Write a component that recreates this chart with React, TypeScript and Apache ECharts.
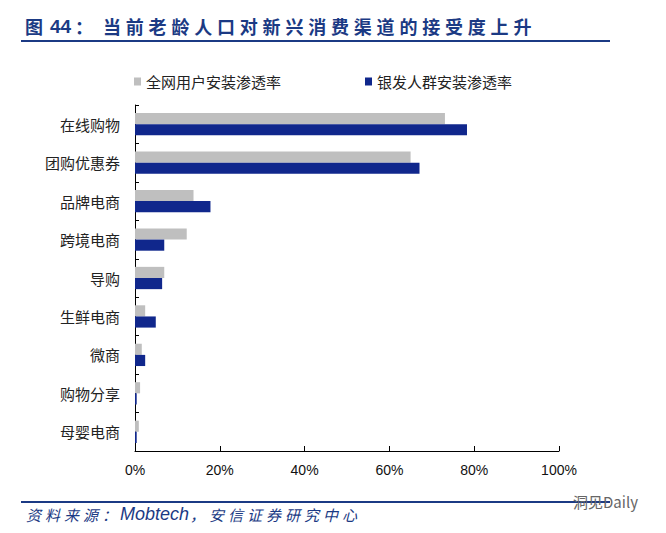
import React, { useEffect, useRef } from "react";
import * as echarts from "echarts";

const categories = ["在线购物", "团购优惠券", "品牌电商", "跨境电商", "导购", "生鲜电商", "微商", "购物分享", "母婴电商"];
const allUsers = [73.1, 65.0, 13.8, 12.2, 6.9, 2.4, 1.6, 1.2, 0.9];
const silverUsers = [78.3, 67.1, 17.8, 6.9, 6.4, 4.9, 2.4, 0.4, 0.4];
const seriesNames = ["全网用户安装渗透率", "银发人群安装渗透率"];
const xTicks = [0, 20, 40, 60, 80, 100];

const TITLE_PREFIX = ["图", "44", "："];
const TITLE_BODY = "当前老龄人口对新兴消费渠道的接受度上升";
const SOURCE_HEAD = "资料来源：";
const SOURCE_ORG = "Mobtech";
const SOURCE_TAIL = "，安信证券研究中心";
const WATERMARK = "洞见Daily";

const BLUE = "#1B3A84";
const CJK = "'Noto Sans CJK SC', sans-serif";
const LATIN = "'Liberation Sans', Arial, sans-serif";

function spaced(text: string, x0: number, pitch: number, y: number, style: any) {
  return Array.from(text).map((ch, i) => ({
    type: "text",
    x: x0 + i * pitch,
    y,
    style: { text: ch, textVerticalAlign: "middle", ...style },
  }));
}

export default function App() {
  const ref = useRef<HTMLDivElement>(null);
  useEffect(() => {
    if (!ref.current) return;
    const chart = echarts.init(ref.current, null, { renderer: "svg" });
    const titleStyle = { fontSize: 18, fontWeight: "bold", fill: BLUE, fontFamily: CJK };
    const srcStyle = { fontSize: 15, fontStyle: "italic", fill: BLUE, fontFamily: CJK };
    chart.setOption({
      animation: false,
      backgroundColor: "#ffffff",
      textStyle: { fontFamily: CJK },
      grid: { left: 135, right: 107, top: 105, bottom: 82, containLabel: false },
      legend: {
        top: 69,
        left: 129,
        itemWidth: 7,
        itemHeight: 8,
        itemGap: 84,
        icon: "rect",
        textStyle: { fontSize: 15, color: "#222", fontFamily: CJK },
        data: seriesNames,
      },
      xAxis: {
        type: "value",
        min: xTicks[0],
        max: xTicks[xTicks.length - 1],
        interval: 20,
        axisLine: { show: true, lineStyle: { color: "#000", width: 1 } },
        axisTick: { show: true, inside: true, length: 5, lineStyle: { color: "#000" } },
        splitLine: { show: false },
        axisLabel: {
          formatter: "{value}%",
          fontSize: 14,
          color: "#111",
          margin: 12,
          fontFamily: LATIN,
        },
      },
      yAxis: {
        type: "category",
        inverse: true,
        data: categories,
        axisLine: { show: true, lineStyle: { color: "#000", width: 1 } },
        axisTick: { show: true, inside: true, length: 4, lineStyle: { color: "#000" } },
        axisLabel: { fontSize: 15, color: "#222", margin: 15 },
      },
      series: [
        {
          name: seriesNames[0],
          type: "bar",
          data: allUsers,
          itemStyle: { color: "#BFBFBF" },
          barGap: "0%",
          barCategoryGap: "42%",
        },
        {
          name: seriesNames[1],
          type: "bar",
          data: silverUsers,
          itemStyle: { color: "#10278C" },
          barGap: "0%",
          barCategoryGap: "42%",
        },
      ],
      graphic: [
        { type: "text", x: 25, y: 26, style: { text: TITLE_PREFIX[0], textVerticalAlign: "middle", ...titleStyle, fontSize: 18 } },
        { type: "text", x: 50, y: 26, style: { text: TITLE_PREFIX[1], textVerticalAlign: "middle", ...titleStyle, fontSize: 19, fontFamily: LATIN } },
        { type: "text", x: 75, y: 26, style: { text: TITLE_PREFIX[2], textVerticalAlign: "middle", ...titleStyle } },
        ...spaced(TITLE_BODY, 103, 22.8, 26, titleStyle),
        { type: "rect", shape: { x: 21, y: 40, width: 589, height: 2 }, style: { fill: BLUE } },
        { type: "rect", shape: { x: 21, y: 501, width: 589, height: 2 }, style: { fill: BLUE } },
        ...spaced(SOURCE_HEAD, 26, 19, 514, srcStyle),
        {
          type: "text",
          x: 120,
          y: 514,
          style: { text: SOURCE_ORG, textVerticalAlign: "middle", fontSize: 18, fontStyle: "italic", fill: BLUE, fontFamily: LATIN },
        },
        ...spaced(SOURCE_TAIL, 190, 19, 514, srcStyle),
        {
          type: "text",
          x: 573,
          y: 501,
          style: { text: WATERMARK, textVerticalAlign: "middle", fontSize: 15, fill: "#666", fontFamily: CJK },
        },
      ],
    });
    return () => chart.dispose();
  }, []);
  return <div ref={ref} style={{ width: 666, height: 533, position: "absolute", left: 0, top: 0 }} />;
}
